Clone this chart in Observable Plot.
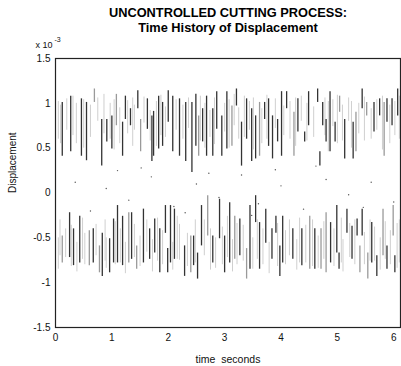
<!DOCTYPE html>
<html>
<head>
<meta charset="utf-8">
<script src="https://cdn.jsdelivr.net/npm/d3@7"></script>
<script src="https://cdn.jsdelivr.net/npm/@observablehq/plot@0.6"></script>
<style>
  html, body { margin: 0; padding: 0; background: #fff; }
  #chart svg { display: block; }
</style>
</head>
<body>
<div id="chart"></div>
<script>
// ---- Data (displacement in units of 1e-3, time in seconds) ----
const titleLines = ["UNCONTROLLED CUTTING PROCESS:", "Time History of Displacement"];
const xTicks = [0, 1, 2, 3, 4, 5, 6];
const yTicks = [-1.5, -1, -0.5, 0, 0.5, 1, 1.5];

// upper band strokes (trace: 1 = dark pass, 0 = grey pass)
const upX = [.12,.27,.46,.55,.69,.82,.91,1.0,1.08,1.19,1.24,1.33,1.46,1.51,1.63,1.71,1.74,1.83,1.90,2.0,
  2.08,2.20,2.31,2.42,2.49,2.54,2.61,2.68,2.79,2.86,2.95,3.04,3.13,3.21,3.30,3.39,3.48,3.55,3.62,3.71,3.78,3.85,3.94,4.01,
  4.10,4.23,4.30,4.42,4.49,4.65,4.69,4.74,4.80,4.87,4.96,5.04,5.13,5.28,5.33,5.44,5.52,5.65,5.75,5.83,5.88,5.97,6.07];
const upTop = [1.01,1.08,1.05,1.01,1.16,.82,.82,.86,1.10,.79,1.08,.94,1.14,.82,1.05,.86,.91,1.08,1.01,1.14,
  1.08,1.05,1.01,1.01,1.10,.86,.94,1.08,.94,1.13,.86,1.13,.97,1.16,.79,1.05,.94,.86,1.01,1.01,1.05,.86,.82,1.13,
  1.13,.90,1.05,.68,1.13,1.16,.46,1.01,.82,1.13,.79,1.08,.82,.79,.90,1.16,1.01,1.01,1.05,1.01,1.05,1.05,1.16];
const upBot = [.41,.46,.41,.36,1.01,.30,.57,.49,.75,.41,.82,.75,.94,.46,.71,.35,.41,.49,.52,.79,
  .46,.41,.35,.23,.52,.41,.57,.41,.41,.71,.41,.49,.52,.97,.30,.60,.35,.38,.41,.82,.52,.38,.57,.41,
  .94,.41,.68,.57,.75,1.01,.30,.75,.57,.46,.57,.90,.38,.38,.46,.94,.86,.68,.86,.41,.79,.75,.86];
const upTrace = [1,1,1,1,0,1,1,1,0,1,1,1,1,0,1,1,1,1,1,1,
  1,1,1,1,1,0,1,1,1,1,1,1,0,1,1,1,1,1,0,1,1,1,1,1,
  1,0,1,1,1,1,1,1,1,1,1,0,1,1,0,1,0,1,1,0,1,1,1];

// lower band strokes
const loX = [.12,.25,.32,.43,.60,.67,.78,.83,.96,1.03,1.10,1.19,1.30,1.35,1.44,1.56,1.67,1.76,1.85,1.95,1.99,
  2.04,2.11,2.29,2.40,2.45,2.52,2.59,2.70,2.79,2.91,3.00,3.09,3.18,3.27,3.39,3.45,3.55,3.62,3.73,3.84,3.91,3.98,4.03,
  4.21,4.37,4.51,4.60,4.71,4.80,4.88,4.99,5.03,5.17,5.26,5.35,5.40,5.44,5.54,5.61,5.70,5.81,5.88,5.99,6.02];
const loTop = [-.48,-.22,-.40,-.26,-.42,-.40,-.59,-.45,-.51,-.29,-.14,-.26,-.22,-.22,-.59,-.18,-.40,-.29,-.40,-.14,-.62,
  -.14,-.18,-.59,-.48,-.48,-.67,-.14,-.03,-.48,-.07,-.48,-.11,-.26,-.29,-.62,-.14,-.03,-.33,-.18,-.40,-.26,-.59,-.26,
  -.40,-.40,-.26,-.40,-.40,-.22,-.33,-.14,-.67,-.18,-.37,-.29,-.59,-.18,-.67,-.33,-.70,-.18,-.59,-.14,-.70];
const loBot = [-.78,-.72,-.81,-.78,-.81,-.78,-.89,-.93,-.89,-.78,-.78,-.81,-.78,-.74,-.85,-.78,-.74,-.67,-.89,-.45,-.89,
  -.78,-.74,-.93,-.89,-.81,-.96,-.59,-.48,-.78,-.51,-.89,-.78,-.74,-.70,-.96,-.85,-.33,-.85,-.56,-.74,-.45,-.93,-.78,
  -.74,-.81,-.85,-.85,-.85,-.89,-.78,-.67,-.85,-.45,-.74,-.48,-.89,-.48,-.96,-.78,-.93,-.70,-.85,-.48,-.89];
const loTrace = [0,1,1,1,0,1,0,1,1,1,1,1,0,1,0,1,1,1,1,1,1,
  1,1,1,0,1,1,1,0,1,1,1,1,0,1,0,1,1,1,1,1,1,1,1,
  1,1,0,1,0,0,1,1,1,1,1,1,0,1,0,1,1,0,1,0,1];

// faint strokes of the dense oscillation
const faintUpX = [.05,.09,.20,.31,.37,.50,.62,.75,.86,.97,1.04,1.14,1.28,1.37,1.40,1.57,1.68,1.79,1.87,1.95,2.14,2.26,2.36,2.57,2.65,2.74,2.82,3.00,3.08,3.17,3.25,3.35,3.44,3.51,3.66,3.75,3.90,4.05,4.16,4.26,4.36,4.46,4.58,4.78,4.84,4.92,5.00,5.09,5.20,5.25,5.38,5.48,5.60,5.70,5.80,5.93,6.02,6.10];
const faintUpTop = [1.02,.98,1.05,1.08,1.00,1.04,.98,1.06,1.10,1.00,1.04,.95,1.03,1.06,.98,1.07,.92,1.02,1.09,.96,1.04,.98,1.06,1.08,1.00,.92,1.06,1.00,1.04,1.10,.95,1.08,1.02,1.06,.94,1.09,1.05,.97,1.02,1.06,1.08,1.00,.96,1.06,1.02,1.04,1.09,.98,1.06,1.02,1.00,1.07,.94,1.04,1.08,.98,1.02,1.08];
const faintUpBot = [.60,.55,.70,.64,.55,.50,.62,.80,.66,.60,.48,.55,.66,.52,.70,.78,.58,.52,.64,.62,.70,.60,.72,.58,.50,.62,.54,.68,.50,.75,.60,.62,.70,.48,.55,.60,.72,.64,.60,.52,.80,.58,.62,.64,.46,.74,.55,.58,.80,.50,.66,.58,.60,.70,.48,.55,.64,.60];
const faintLoX = [.05,.08,.18,.28,.38,.48,.52,.72,.88,.90,1.06,1.15,1.24,1.40,1.50,1.62,1.72,1.81,1.90,2.08,2.16,2.20,2.34,2.48,2.64,2.75,2.84,2.96,3.05,3.14,3.22,3.33,3.50,3.58,3.68,3.79,3.94,4.08,4.15,4.28,4.33,4.44,4.56,4.66,4.76,4.94,5.07,5.10,5.22,5.31,5.48,5.58,5.66,5.76,5.85,5.94,6.06,6.10];
const faintLoTop = [-.50,-.30,-.40,-.36,-.55,-.28,-.45,-.35,-.30,-.50,-.32,-.40,-.55,-.35,-.48,-.30,-.52,-.28,-.42,-.55,-.26,-.35,-.45,-.30,-.30,-.40,-.50,-.38,-.26,-.52,-.34,-.36,-.50,-.30,-.40,-.55,-.34,-.42,-.30,-.52,-.28,-.36,-.30,-.48,-.32,-.40,-.28,-.52,-.34,-.30,-.44,-.30,-.38,-.50,-.32,-.42,-.34,-.30];
const faintLoBot = [-.85,-.70,-.72,-.82,-.88,-.74,-.80,-.70,-.76,-.84,-.80,-.78,-.90,-.72,-.82,-.66,-.88,-.76,-.80,-.86,-.74,-.75,-.82,-.78,-.70,-.86,-.84,-.80,-.72,-.88,-.80,-.76,-.85,-.74,-.80,-.90,-.82,-.80,-.70,-.86,-.78,-.78,-.82,-.84,-.74,-.82,-.78,-.88,-.72,-.80,-.80,-.76,-.76,-.86,-.74,-.80,-.84,-.78];

// sparse samples crossing zero
const crossX = [.35,.90,1.10,1.30,1.70,2.10,2.30,2.50,2.90,3.30,3.60,3.90,4.00,4.40,4.80,5.20,5.60,6.00,.62,1.52,2.72,3.48,4.62,5.46];
const crossY = [.12,.05,.25,-.08,.18,-.15,-.22,.10,-.05,.20,-.12,.26,.08,-.18,.15,-.02,.12,-.10,-.20,.28,.22,-.25,.30,-.16];

// ---- Build tables ----
const band = (xs, t, b, tr) => xs.map((x, i) => ({x, top: t[i], bot: b[i], trace: tr ? tr[i] : 2}));
const strokes = [...band(upX, upTop, upBot, upTrace), ...band(loX, loTop, loBot, loTrace)];
const faint = [...band(faintUpX, faintUpTop, faintUpBot), ...band(faintLoX, faintLoTop, faintLoBot)];
const cross = crossX.map((x, i) => ({x, y: crossY[i]}));

const font = "'Liberation Sans', Arial, Helvetica, sans-serif";

const chart = Plot.plot({
  width: 401,
  height: 366,
  marginLeft: 55,
  marginRight: 1,
  marginTop: 58,
  marginBottom: 39,
  style: {fontFamily: font, fontSize: "10px", color: "#111", background: "#fff"},
  x: {domain: [0, 6.12], ticks: xTicks, tickSize: 0, tickPadding: 6, label: null, tickFormat: d => String(d)},
  y: {domain: [-1.5, 1.5], ticks: yTicks, tickSize: 0, tickPadding: 5, label: null,
      tickFormat: d => String(d)},
  color: {type: "ordinal", domain: [0, 1, 2], range: ["#9a9a9a", "#333333", "#cfcfcf"]},
  marks: [
    Plot.ruleX(faint, {x: "x", y1: "top", y2: "bot", stroke: "trace", strokeWidth: 1}),
    Plot.ruleX(strokes, {x: "x", y1: "top", y2: "bot", stroke: "trace", strokeWidth: 1.3}),
    Plot.dot(cross, {x: "x", y: "y", r: 0.7, fill: "#555", stroke: null}),
    Plot.frame({stroke: "#222", strokeWidth: 1.2}),
    Plot.text([titleLines[0]], {frameAnchor: "top", dy: -51, text: d => d, fontWeight: "bold", fontSize: 12.8, fill: "#000"}),
    Plot.text([titleLines[1]], {frameAnchor: "top", dy: -36, text: d => d, fontWeight: "bold", fontSize: 12.8, fill: "#000"}),
    Plot.text(["x 10"], {frameAnchor: "top-left", dx: -20, dy: -17, text: d => d, textAnchor: "start", fontSize: 9, fill: "#111"}),
    Plot.text(["-3"], {frameAnchor: "top-left", dx: -1, dy: -21, text: d => d, textAnchor: "start", fontSize: 7, fill: "#111"}),
    Plot.text(["Displacement"], {frameAnchor: "left", dx: -43, rotate: -90, text: d => d, fontSize: 10, fill: "#111"}),
    Plot.text(["time  seconds"], {frameAnchor: "bottom", dy: 35, text: d => d, fontSize: 10.5, fill: "#111"})
  ]
});
document.getElementById("chart").appendChild(chart);
</script>
</body>
</html>
